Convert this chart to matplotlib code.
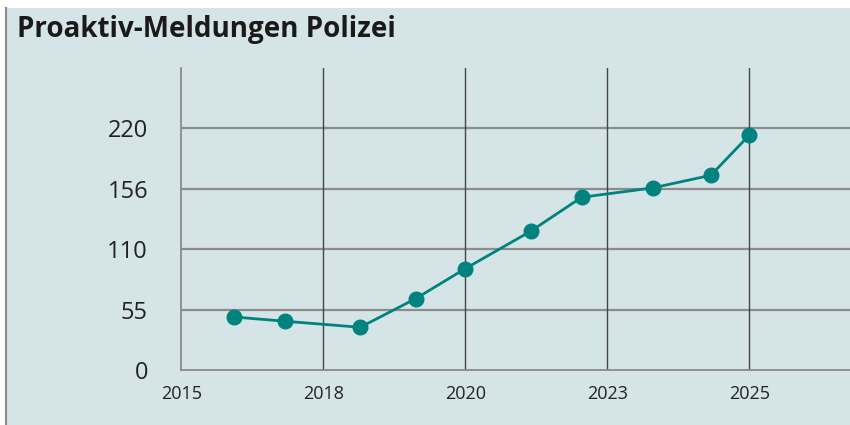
import matplotlib
matplotlib.use("Agg")
import matplotlib.pyplot as plt
from matplotlib.patches import Rectangle
from matplotlib.lines import Line2D

# Daten (x in Rasterpositionen: 0 = linke Achse, 1..4 = Jahresgitterlinien)
tick_pos = [0, 1, 2, 3, 4]
tick_jahre = ["2015", "2018", "2020", "2023", "2025"]
y_ticks = [0, 55, 110, 165, 220]
y_labels = ["0", "55", "110", "156", "220"]

x_punkte = [0.37, 0.73, 1.26, 1.65, 2.0, 2.46, 2.82, 3.32, 3.73, 4.0]
meldungen = [48.3, 44.4, 38.9, 64.9, 92.3, 126.3, 157.3, 165.8, 177.3, 213.8]

hintergrund = "#d5e4e6"
teal = "#00837f"

fig = plt.figure(figsize=(8.5, 4.25), dpi=100)
fig.patch.set_facecolor(hintergrund)
# weisser Rand oben und links
fig.patches.append(Rectangle((0, 417 / 425), 1, 8 / 425, transform=fig.transFigure,
                             facecolor="white", edgecolor="none"))
fig.patches.append(Rectangle((0, 0), 5 / 850, 1, transform=fig.transFigure,
                             facecolor="white", edgecolor="none"))
fig.lines.append(Line2D([5.5 / 850, 5.5 / 850], [0, 417 / 425], transform=fig.transFigure,
                        color="#8a8a8a", lw=1.5))

fig.text(17 / 850, 1 - 37 / 425, "Proaktiv-Meldungen Polizei", fontsize=20,
         fontweight="bold", family="Open Sans", color="#1a1a1a", va="baseline")

ax = fig.add_axes([181.3 / 850, 1 - 370 / 425, 1 - 181.3 / 850, 302 / 425])
ax.set_facecolor("none")
ax.set_xlim(0, 4.71)
ax.set_ylim(0, 275)

for s in ["top", "right"]:
    ax.spines[s].set_visible(False)
ax.spines["left"].set_color("#8a8a8a")
ax.spines["bottom"].set_color("#8a8a8a")
ax.spines["left"].set_linewidth(1.3)
ax.spines["bottom"].set_linewidth(1.3)

for y in y_ticks[1:]:
    ax.axhline(y, color="#8c8c8c", lw=1.6, zorder=1)
for x in tick_pos[1:]:
    ax.axvline(x, color="#454545", lw=1.0, zorder=1)

ax.plot(x_punkte, meldungen, color=teal, lw=2.0, marker="o", markersize=10.5,
        zorder=3)

ax.set_yticks(y_ticks)
ax.set_yticklabels(y_labels, fontsize=17, family="Open Sans", color="#222222")
ax.set_xticks(tick_pos)
ax.set_xticklabels(tick_jahre, fontsize=13, family="Open Sans", color="#222222")
ax.tick_params(axis="y", length=0, pad=24)
ax.tick_params(axis="x", length=0, pad=11)

plt.savefig("out.png", dpi=100)
